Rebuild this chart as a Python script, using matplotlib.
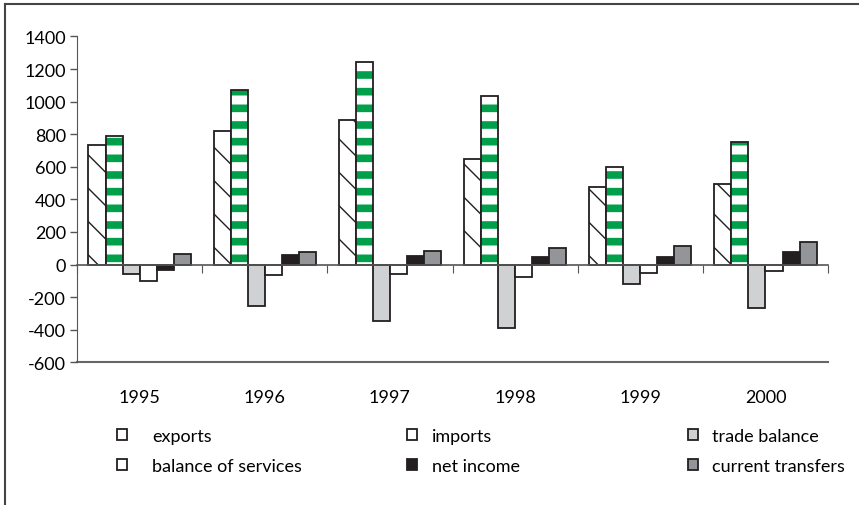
import numpy as np
import matplotlib
matplotlib.use("Agg")
import matplotlib.pyplot as plt
from matplotlib.lines import Line2D

plt.rcParams['font.family'] = ['Lato', 'DejaVu Sans']
plt.rcParams['axes.unicode_minus'] = False

years = ['1995', '1996', '1997', '1998', '1999', '2000']
exports = [732, 822, 888, 646, 477, 497]
imports = [789, 1072, 1241, 1033, 599, 750]
trade_balance = [-57, -253, -348, -387, -121, -264]
balance_services = [-98, -65, -57, -74, -49, -41]
net_income = [-33, 61, 53, 47, 47, 75]
current_transfers = [67, 74, 84, 100, 112, 139]
y_ticks = [-600, -400, -200, 0, 200, 400, 600, 800, 1000, 1200, 1400]

series = [
    ('exports', exports, dict(facecolor='white', hatch='\\')),
    ('imports', imports, dict(facecolor='white', hatch='-')),
    ('trade balance', trade_balance, dict(facecolor='#d0d1d3')),
    ('balance of services', balance_services, dict(facecolor='white')),
    ('net income', net_income, dict(facecolor='#231f20')),
    ('current transfers', current_transfers, dict(facecolor='#939598')),
]

fig = plt.figure(figsize=(8.59, 5.06), dpi=100)
ax = fig.add_axes([0.0896, 0.282, 0.8744, 0.644])

x = np.arange(len(years))
w = 0.136
handles = {}
for i, (name, vals, style) in enumerate(series):
    bars = ax.bar(x + (i - 2.5) * w, vals, w, edgecolor='#231f20',
                  linewidth=1.3, label=name, **style)
    if name == 'imports':
        for b in bars:
            b._hatch_color = matplotlib.colors.to_rgba('#00a04b')
            if hasattr(b, 'set_hatch_linewidth'):
                b.set_hatch_linewidth(5.5)
    handles[name] = bars

ax.set_xlim(-0.5, len(years) - 0.5)
ax.set_ylim(-600, 1400)
ax.set_yticks(y_ticks)
ax.tick_params(axis='y', direction='out', length=5, width=1, color='#555555',
               labelsize=13, pad=3)
for s in ['top', 'right']:
    ax.spines[s].set_visible(False)
ax.spines['left'].set_color('#555555')
ax.spines['bottom'].set_position(('data', 0))
ax.spines['bottom'].set_color('#555555')
ax.spines['bottom'].set_linewidth(1.2)
ax.set_xticks(np.arange(-0.5, len(years), 1.0))
ax.set_xticklabels([])
ax.tick_params(axis='x', direction='out', length=6, color='#555555')

sec = ax.secondary_xaxis('bottom')
sec.set_xticks(x)
sec.set_xticklabels(years)
sec.tick_params(length=0, labelsize=13, pad=19)
sec.spines['bottom'].set_color('#666666')
sec.spines['bottom'].set_linewidth(1.5)

# legend: three columns placed like the original
columns = [
    (['exports', 'balance of services'], 0.136, 1.4),
    (['imports', 'net income'], 0.474, 0.8),
    (['trade balance', 'current transfers'], 0.801, 0.8),
]
for names, xpos, tpad in columns:
    leg = fig.legend([handles[n] for n in names], names, frameon=False,
                     loc='upper left', bbox_to_anchor=(xpos, 0.152),
                     bbox_transform=fig.transFigure, borderpad=0,
                     borderaxespad=0, fontsize=13, handlelength=0.55,
                     handleheight=0.55, handletextpad=tpad, labelspacing=0.75)

# outer frame lines (top and left)
fig.add_artist(Line2D([0.006, 1.0], [0.99, 0.99], transform=fig.transFigure,
                      color='#444444', lw=1.5))
fig.add_artist(Line2D([0.006, 0.006], [0.0, 0.99], transform=fig.transFigure,
                      color='#444444', lw=1.5))

fig.savefig('out.png', dpi=100)
